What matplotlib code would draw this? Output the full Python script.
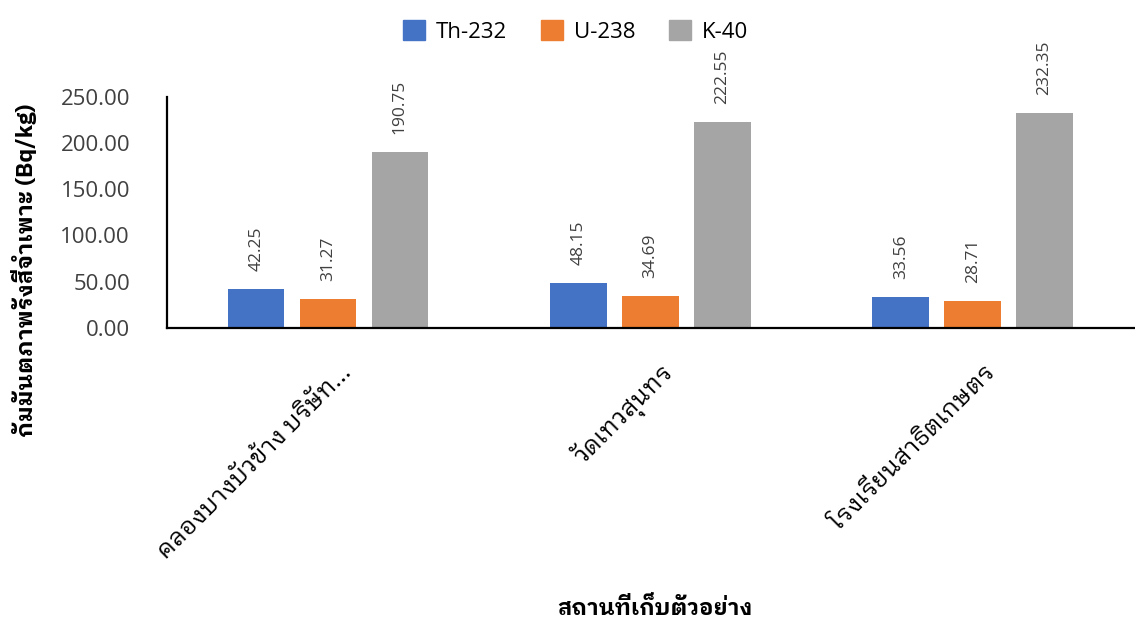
import matplotlib
matplotlib.use("Agg")
import matplotlib.pyplot as plt
import numpy as np
from matplotlib.patches import Rectangle

# data
SITES = ["คลองบางบัวข้าง บริษัท...", "วัดเทวสุนทร", "โรงเรียนสาธิตเกษตร"]
SERIES = ["Th-232", "U-238", "K-40"]
TH232 = [42.25, 48.15, 33.56]
U238 = [31.27, 34.69, 28.71]
K40 = [190.75, 222.55, 232.35]
COLORS = ["#4472C4", "#ED7D31", "#A5A5A5"]
Y_TICKS = [0, 50, 100, 150, 200, 250]

THAI = ["IBM Plex Sans Thai Looped", "Noto Sans Thai Looped", "Open Sans"]
LATIN = "Open Sans"
TEXT = "#404040"

fig = plt.figure(figsize=(11.35, 6.22), dpi=100)
ax = fig.add_axes([0.147, 0.473, 0.852, 0.371])

x = np.arange(len(SITES))
width = 0.176
step = 0.223
for i, (vals, color) in enumerate(zip([TH232, U238, K40], COLORS)):
    pos = x + (i - 1) * step
    bars = ax.bar(pos, vals, width=width, color=color, zorder=2)
    for b, v in zip(bars, vals):
        ax.annotate(f"{v:.2f}", (b.get_x() + b.get_width() / 2, v),
                    xytext=(0, 13), textcoords="offset points",
                    rotation=90, ha="center", va="bottom",
                    fontsize=12.5, family=LATIN, color=TEXT)

ax.set_xlim(-0.5, len(SITES) - 0.5)
ax.set_ylim(0, 250)
ax.set_yticks(Y_TICKS)
ax.set_yticklabels([f"{t:.2f}" for t in Y_TICKS], family=LATIN, fontsize=16, color=TEXT)
ax.tick_params(axis="y", length=0, pad=26.5)
ax.set_xticks(x)
ax.set_xticklabels([])
ax.tick_params(axis="x", length=0)
# rotated site names, right end hanging just under each group
for xi, name in zip(x, SITES):
    ax.text(xi + 0.06, -45, name, rotation=45, rotation_mode="anchor",
            ha="right", va="center", family=THAI, fontsize=17.5, color="black",
            transform=ax.transData, clip_on=False)

for s in ["top", "right"]:
    ax.spines[s].set_visible(False)
ax.spines["left"].set_linewidth(1.6)
ax.spines["bottom"].set_linewidth(1.6)

fig.text(0.021, 0.566, "กัมมันตภาพรังสีจำเพาะ (Bq/kg)", rotation=90,
         ha="center", va="center", family=THAI, fontsize=16.5, fontweight="bold")
fig.text(0.577, 0.024, "สถานที่เก็บตัวอย่าง", ha="center", va="center",
         family=THAI, fontsize=16, fontweight="bold")

handles = [Rectangle((0, 0), 1, 1, color=c) for c in COLORS]
fig.legend(handles, SERIES, loc="upper center", bbox_to_anchor=(0.507, 1.0),
           ncol=3, frameon=False, prop={"family": LATIN, "size": 16},
           handlelength=1.0, handleheight=1.0, columnspacing=1.5, handletextpad=0.5)

fig.savefig("out.png", dpi=100)
